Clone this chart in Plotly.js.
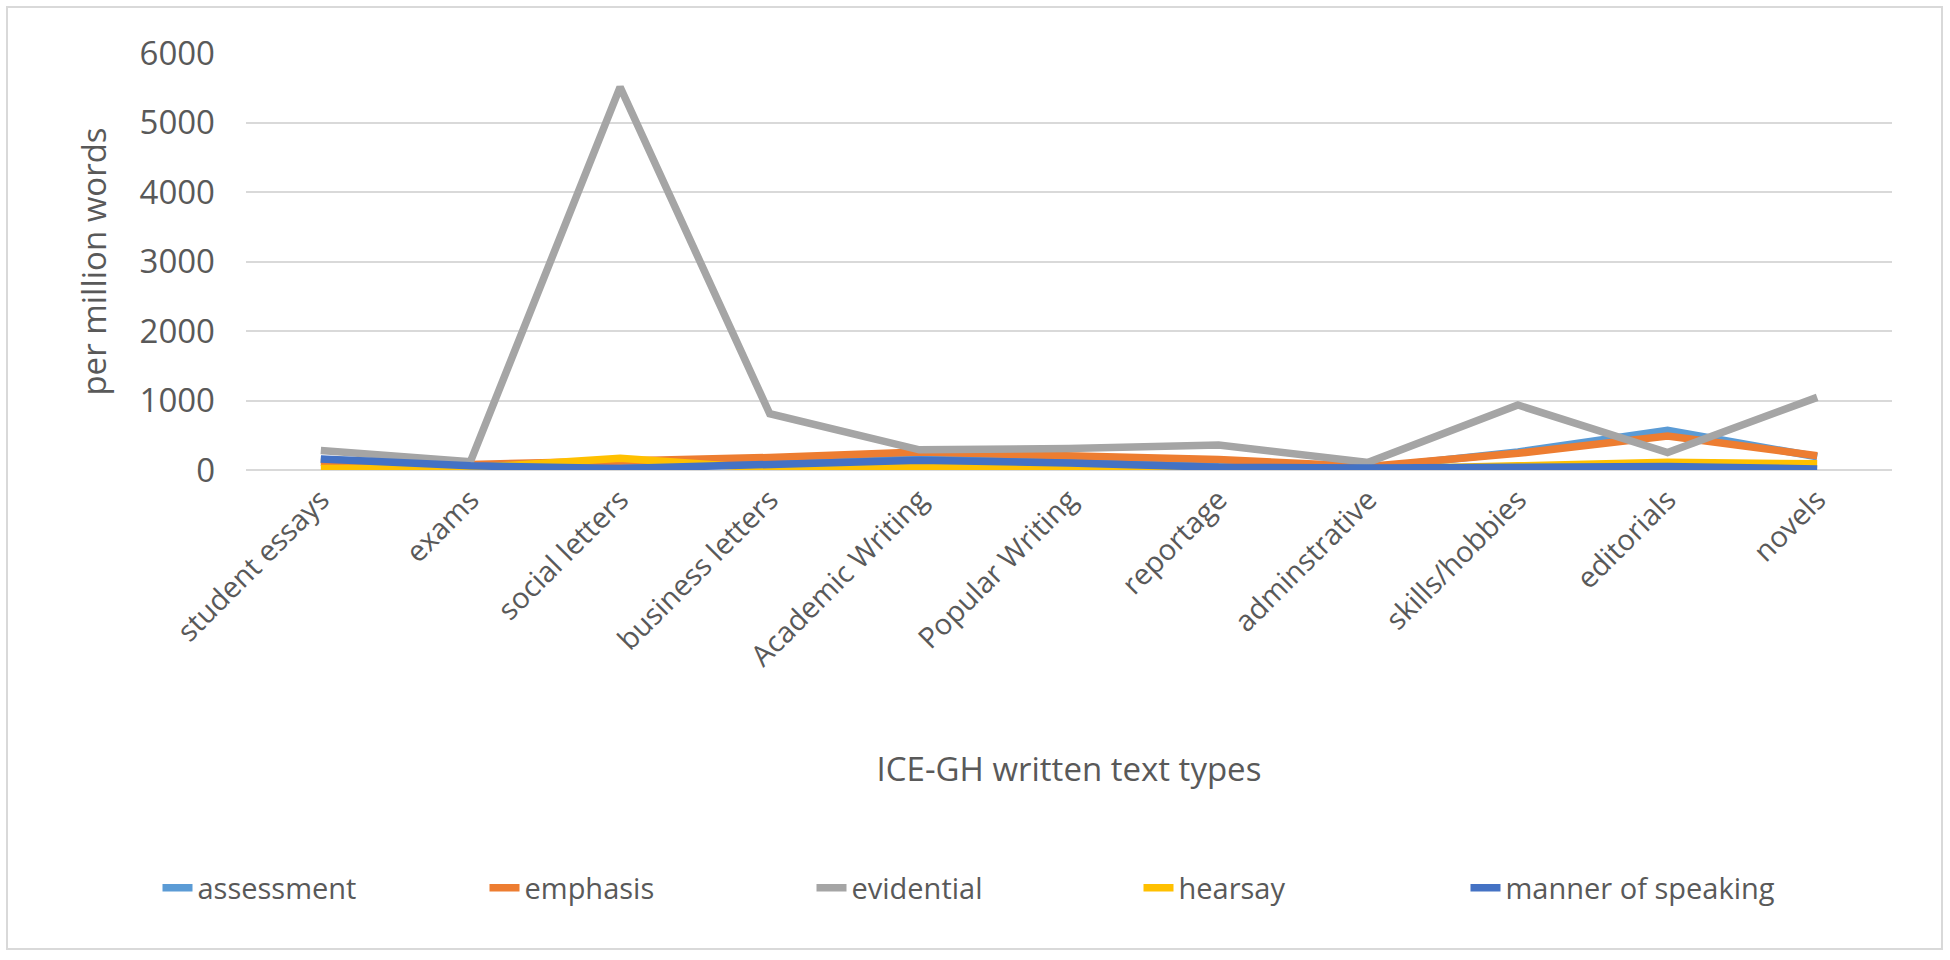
<!DOCTYPE html>
<html>
<head>
<meta charset="utf-8">
<script src="https://cdn.plot.ly/plotly-3.0.1.min.js"></script>
<style>
  body { margin: 0; background: #fff; }
  #graph { width: 1950px; height: 960px; }
  #frame { position: absolute; left: 6px; top: 6px; width: 1933px; height: 940px;
           border: 2px solid #d9d9d9; pointer-events: none; }
</style>
</head>
<body>
<div id="graph"></div>
<div id="frame"></div>
<script>
// text types on the x axis
const textTypes = ["student essays", "exams", "social letters", "business letters", "Academic Writing",
  "Popular Writing", "reportage", "adminstrative", "skills/hobbies", "editorials", "novels"]

// per million words
const assessment = [150, 60, 40, 110, 200, 150, 100, 30, 260, 570, 190]
const emphasis   = [110, 80, 130, 180, 260, 200, 150, 50, 240, 490, 205]
const evidential = [280, 120, 5510, 810, 290, 310, 360, 110, 935, 250, 1045]
const hearsay    = [20, 30, 170, 20, 40, 30, 20, 10, 60, 110, 90]
const manner     = [160, 60, 20, 70, 140, 100, 40, 30, 40, 50, 15]

const seriesNames  = ["assessment", "emphasis", "evidential", "hearsay", "manner of speaking"]
const seriesValues = [assessment, emphasis, evidential, hearsay, manner]
const seriesColors = ["#5B9BD5", "#ED7D31", "#A5A5A5", "#FFC000", "#4472C4"]

const font = "Open Sans, Noto Sans, sans-serif"

let traces = seriesNames.map((name, i) => ({
  x: textTypes,
  y: seriesValues[i],
  name: name,
  type: 'scatter',
  mode: 'lines',
  line: {color: seriesColors[i], width: 7.5}
}))

let layout = {
  width: 1950,
  height: 960,
  margin: {l: 246, r: 58, t: 53, b: 490},
  paper_bgcolor: '#fff',
  plot_bgcolor: '#fff',
  showlegend: true,
  font: {family: font, color: '#595959'},
  xaxis: {
    type: 'category',
    range: [-0.5, 10.5],
    showgrid: false,
    showline: false,
    ticks: '',
    tickangle: -45,
    ticklabelstandoff: 6,
    tickfont: {size: 29, color: '#595959'},
    title: {text: 'ICE-GH written text types', font: {size: 33, color: '#595959'}, standoff: 85}
  },
  yaxis: {
    range: [0, 6000],
    dtick: 1000,
    showgrid: true,
    gridcolor: '#d9d9d9',
    gridwidth: 2,
    zeroline: true,
    zerolinecolor: '#d9d9d9',
    zerolinewidth: 2,
    showline: false,
    ticks: '',
    ticklabelstandoff: 30,
    tickfont: {size: 33, color: '#595959'},
    title: {text: 'per million words', font: {size: 33, color: '#595959'}, standoff: 22}
  },
  legend: {
    orientation: 'h',
    xref: 'container',
    x: 0.5,
    xanchor: 'center',
    yref: 'container',
    y: 0.075,
    yanchor: 'middle',
    entrywidth: 282,
    font: {size: 29, color: '#595959'}
  },
  hovermode: false
}

Plotly.newPlot('graph', traces, layout, {displayModeBar: false, staticPlot: true})
</script>
</body>
</html>
